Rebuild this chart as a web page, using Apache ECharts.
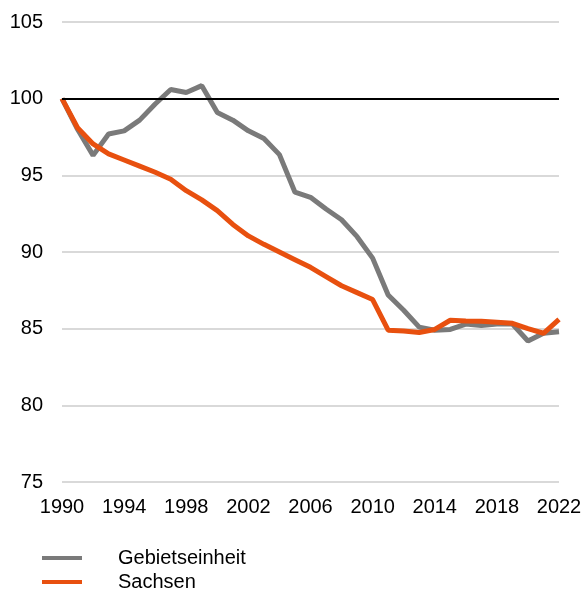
<!DOCTYPE html>
<html>
<head>
<meta charset="utf-8">
<script src="https://cdn.jsdelivr.net/npm/echarts@6/dist/echarts.min.js"></script>
<style>
  html, body { margin: 0; padding: 0; background: #fff; }
  #chart { width: 586px; height: 591px; }
</style>
</head>
<body>
<div id="chart"></div>
<script>
var years = [];
for (var y = 1990; y <= 2022; y++) years.push(String(y));

var gebietseinheit = [100.0, 98.0, 96.3, 97.7, 97.9, 98.6, 99.65, 100.6, 100.4, 100.85,
                      99.1, 98.6, 97.9, 97.4, 96.35, 93.9, 93.57, 92.8, 92.1, 91.0,
                      89.6, 87.2, 86.2, 85.1, 84.9, 84.95, 85.3, 85.2, 85.3, 85.3,
                      84.2, 84.7, 84.8];
var sachsen = [100.0, 98.1, 97.05, 96.4, 96.0, 95.6, 95.2, 94.75, 94.0, 93.4,
               92.7, 91.8, 91.05, 90.5, 90.0, 89.5, 89.0, 88.4, 87.8, 87.35,
               86.9, 84.9, 84.85, 84.75, 84.95, 85.55, 85.5, 85.48, 85.42, 85.35,
               85.0, 84.7, 85.6];
var baseLine = 100;

var chart = echarts.init(document.getElementById('chart'));
var font = 'Liberation Sans, Arial, sans-serif';
var legendText = {
    color: '#000',
    fontSize: 20,
    fontFamily: font,
    padding: [0, 0, 0, 31]
};
chart.setOption({
    animation: false,
    grid: { left: 62, right: 27, top: 22, bottom: 109, containLabel: false },
    xAxis: {
        type: 'category',
        boundaryGap: false,
        data: years,
        axisLine: { show: false },
        axisTick: { show: false },
        axisLabel: {
            interval: 3,
            color: '#000',
            fontSize: 20,
            fontFamily: font,
            margin: 15
        },
        splitLine: { show: false }
    },
    yAxis: {
        type: 'value',
        min: 75,
        max: 105,
        interval: 5,
        axisLine: { show: false },
        axisTick: { show: false },
        axisLabel: {
            color: '#000',
            fontSize: 20,
            fontFamily: font,
            margin: 19
        },
        splitLine: { lineStyle: { color: '#d9d9d9', width: 2 } }
    },
    legend: [
        {
            left: 42,
            top: 548,
            padding: 0,
            itemWidth: 40,
            itemHeight: 4,
            icon: 'rect',
            textStyle: legendText,
            data: ['Gebietseinheit']
        },
        {
            left: 42,
            top: 572,
            padding: 0,
            itemWidth: 40,
            itemHeight: 4,
            icon: 'rect',
            textStyle: legendText,
            data: ['Sachsen']
        }
    ],
    series: [
        {
            name: 'Gebietseinheit',
            type: 'line',
            data: gebietseinheit,
            symbol: 'none',
            lineStyle: { color: '#7a7a7a', width: 5 },
            itemStyle: { color: '#7a7a7a' },
            markLine: {
                silent: true,
                symbol: 'none',
                label: { show: false },
                lineStyle: { color: '#000', width: 2, type: 'solid' },
                data: [{ yAxis: baseLine }]
            },
            z: 2
        },
        {
            name: 'Sachsen',
            type: 'line',
            data: sachsen,
            symbol: 'none',
            lineStyle: { color: '#e8500f', width: 5 },
            itemStyle: { color: '#e8500f' },
            z: 3
        }
    ]
});
</script>
</body>
</html>
